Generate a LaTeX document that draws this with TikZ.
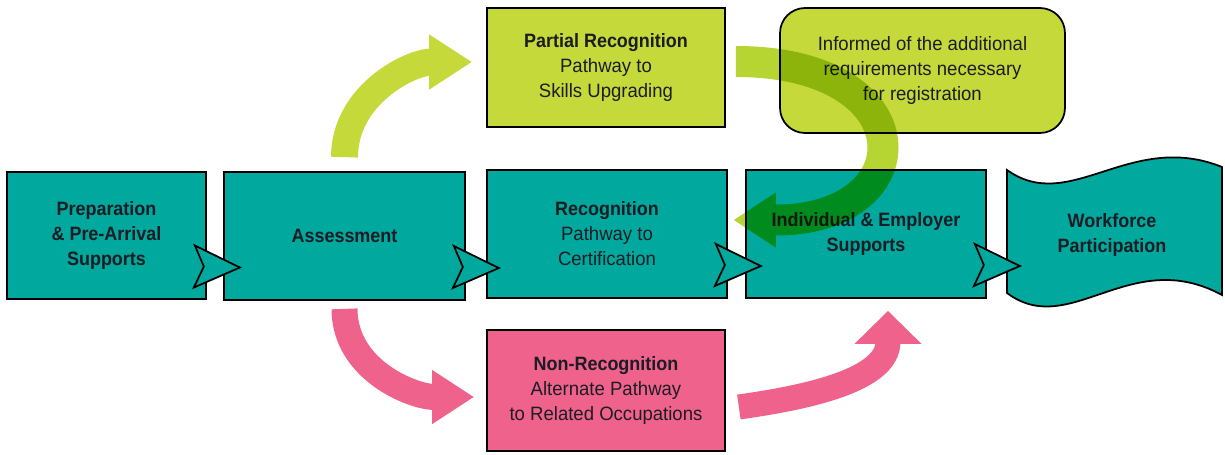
\documentclass[tikz,border=0pt]{standalone}
\usepackage{fontspec}
\setmainfont{Liberation Sans}[FakeStretch=0.96, BoldFeatures={FakeStretch=0.93}]
\usetikzlibrary{arrows.meta,positioning}
\definecolor{stepteal}{RGB}{0,168,157}
\definecolor{steplime}{RGB}{197,217,58}
\definecolor{steppink}{RGB}{239,98,140}
\definecolor{flowlime}{RGB}{182,212,50}
\definecolor{textdark}{RGB}{28,28,36}
\begin{document}
\begin{tikzpicture}[x=0.02cm, y=-0.02cm,
	box/.style={draw=black, line width=1pt, text=textdark, align=center,
		font=\fontsize{11pt}{14.2pt}\selectfont},
	stage box/.style={box, fill=stepteal, minimum width=4.8cm, minimum height=2.56cm},
	partial box/.style={box, fill=steplime, minimum width=4.76cm, minimum height=2.38cm},
	info box/.style={box, fill=steplime, rounded corners=0.5cm, minimum width=5.7cm, minimum height=2.5cm},
	non box/.style={box, fill=steppink, minimum width=4.76cm, minimum height=2.42cm},
	chevron/.style={draw=black, line width=1pt, fill=stepteal, line join=miter},
	lime arrow/.style={draw=steplime, line width=0.54cm, -{Triangle[length=0.86cm, width=1.04cm]}},
	pink arrow/.style={draw=steppink, line width=0.52cm, -{Triangle[length=0.84cm, width=1.02cm]}},
	back arrow/.style={draw=flowlime, line width=0.62cm, -{Triangle[length=0.84cm, width=1.1cm, line width=0pt]}}]
	
	\useasboundingbox (0,0) rectangle (1225,454);
	
	% main line
	\node[stage box, minimum width=3.98cm, minimum height=2.54cm] (prep) at (106.5,235.5) {\textbf{Preparation}\\\textbf{\& Pre-Arrival}\\\textbf{Supports}};
	\node[stage box, minimum width=4.82cm] (assess) at (344.5,236) {\textbf{Assessment}};
	\node[stage box] (recog) at (607,234) {\textbf{Recognition}\\Pathway to\\Certification};
	\node[stage box] (indiv) at (866,234) {\textbf{Individual \& Employer}\\\textbf{Supports}};
	\draw[box, fill=stepteal] (1007,170) .. controls (1070,215) and (1130,130) .. (1222,167)
		-- (1222,295) .. controls (1130,245) and (1070,340) .. (1007,293) -- cycle;
	\node[box, draw=none] (work) at (1112,235) {\textbf{Workforce}\\\textbf{Participation}};
	
	% side paths
	\node[partial box] (partial) at (606,67.5) {\textbf{Partial Recognition}\\Pathway to\\Skills Upgrading};
	\node[info box] (info) at (922.5,70.5) {Informed of the additional\\requirements necessary\\for registration};
	\node[non box] (nonrec) at (606,390.5) {\textbf{Non-Recognition}\\Alternate Pathway\\to Related Occupations};
	
	\foreach \n in {prep,assess,recog,indiv}
		\draw[chevron] ([shift={(-12,10)}]\n.east) -- ([shift={(33,32)}]\n.east)
			-- ([shift={(-13,52)}]\n.east) -- ([shift={(-3,31)}]\n.east) -- cycle;
	
	\draw[lime arrow] ([shift={(0,-14)}]assess.north) to[out=90, in=180] ([shift={(-14,-5.5)}]partial.west);
	\draw[pink arrow] ([shift={(0,8)}]assess.south) to[out=-90, in=180] ([shift={(-12,6.5)}]nonrec.west);
	\draw[pink arrow, line width=0.5cm, -{Triangle[length=0.66cm, width=1.3cm]}]
		([shift={(13,16.5)}]nonrec.east) to[out=8, in=-90] ([shift={(22,12)}]indiv.south);
	
	\begin{scope}[blend mode=multiply]
		\draw[back arrow] ([shift={(10,-6)}]partial.east) .. controls +(190,0) and +(190,0) .. ([shift={(6,-14)}]recog.east);
	\end{scope}
\end{tikzpicture}
\end{document}
